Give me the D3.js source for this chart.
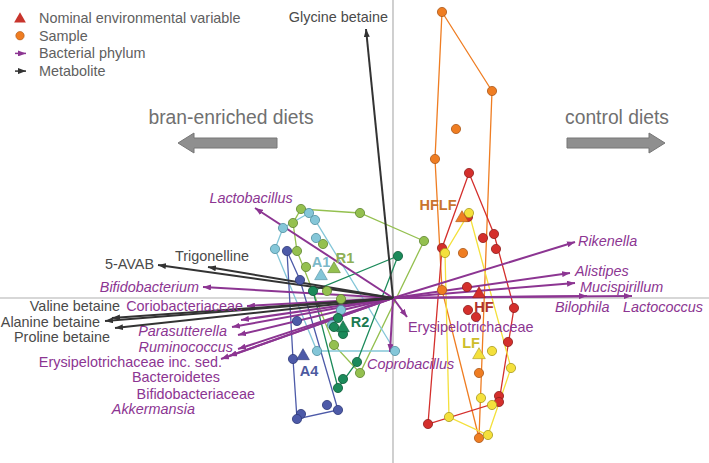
<!DOCTYPE html>
<style>
  body { margin: 0; background: #fff; }
  svg { font-family: "Liberation Sans", Arial, Helvetica, sans-serif; }
</style>
<svg width="709" height="463"></svg>
<script src="https://d3js.org/d3.v7.min.js"></script>
<script>

// ---- data (ordination scores) ----
var groups = ["HFLF", "HF", "LF", "R1", "A1", "A4", "R2"];

var samplesHFLF = [[0.49, 2.86], [0.99, 2.07], [0.63, 1.69], [0.42, 1.39], [0.70, 0.45], [0.49, 0.08], [0.86, -0.75], [0.86, -1.40]];
var samplesHF = [[0.76, 1.25], [0.75, 0.81], [0.49, 0.50], [0.90, 0.60], [1.01, 0.64], [1.03, 0.49], [0.74, 0.11], [0.75, -0.12],
  [0.83, -0.19], [1.21, -0.10], [1.15, -0.44], [1.06, -0.98], [1.06, -1.04], [0.35, -1.26]];
var samplesLF = [[0.76, 0.85], [0.52, 0.45], [0.99, -0.53], [1.18, -0.70], [0.88, -1.00], [0.99, -1.07], [0.56, -1.19], [0.95, -1.37]];
var samplesR1 = [[-0.92, 0.89], [-0.33, 0.85], [-1.00, 0.75], [-0.70, 0.54], [-0.96, 0.47], [-0.87, 0.31], [-0.66, 0.07],
  [-0.52, -0.01], [-0.59, -0.47], [-0.33, -0.75], [0.31, 0.57]];
var samplesA1 = [[-0.84, 0.85], [-0.78, 0.78], [-1.10, 0.70], [-0.77, 0.60], [-1.18, 0.49], [-0.52, -0.12], [-0.61, -0.27],
  [-0.76, -0.53], [0.02, -0.53]];
var samplesA4 = [[-1.06, 0.47], [-0.93, 0.18], [-0.96, -0.23], [-1.00, -0.61], [-0.66, -1.07], [-0.55, -1.12], [-0.92, -1.16], [-0.96, -1.21]];
var samplesR2 = [[0.05, 0.42], [-0.80, 0.07], [-0.55, -0.20], [-0.59, -0.29], [-0.50, -0.36], [-0.36, -0.64], [-0.50, -0.81], [-0.55, -0.90]];
var samples = [samplesHFLF, samplesHF, samplesLF, samplesR1, samplesA1, samplesA4, samplesR2];

// nominal environmental variables (diet centroids)
var centroids = [[0.69, 0.80], [0.86, 0.04], [0.86, -0.57], [-0.59, 0.29], [-0.72, 0.22], [-0.90, -0.58], [-0.50, -0.30]];

var metabolites = ["Glycine betaine", "5-AVAB", "Trigonelline", "Valine betaine", "Alanine betaine", "Proline betaine"];
var metaboliteScores = [[-0.27, 2.69], [-2.35, 0.33], [-1.85, 0.31], [-2.81, -0.20], [-2.88, -0.23], [-2.78, -0.30]];

var bacteria = ["Lactobacillus", "Bifidobacterium", "Coriobacteriaceae", "Bacteroidetes", "Parasutterella", "Ruminococcus",
  "Bifidobacteriaceae", "Akkermansia", "Erysipelotrichaceae inc. sed.", "Rikenella", "Alistipes", "Mucispirillum",
  "Bilophila", "Lactococcus", "Erysipelotrichaceae", "Coprobacillus"];
var bacteriaScores = [[-1.38, 0.90], [-1.90, 0.11], [-1.46, -0.08], [-1.52, -0.22], [-1.61, -0.29], [-1.55, -0.37],
  [-1.55, -0.51], [-1.64, -0.58], [-1.72, -0.61], [1.82, 0.56], [1.77, 0.25], [1.82, 0.15],
  [1.94, 0.02], [2.39, 0.02], [0.14, -0.19], [-0.03, -0.54]];
var genera = ["Lactobacillus", "Bifidobacterium", "Parasutterella", "Ruminococcus", "Akkermansia", "Rikenella", "Alistipes",
  "Mucispirillum", "Bilophila", "Lactococcus", "Coprobacillus"];

var legendItems = ["Nominal environmental variable", "Sample", "Bacterial phylum", "Metabolite"];

// ---- styling / layout ----
var hullColor = ["#ef7d22", "#d42f2c", "#f4e03c", "#94c04f", "#84c6d8", "#4d5aa8", "#1b8a5a"];
var dotStroke = ["#a9581a", "#8e1f1d", "#a89a20", "#5f8531", "#4f8fa0", "#2e3a78", "#0f5c3a"];
var groupText = ["#c9742e", "#b1302b", "#cdbd2a", "#8fb055", "#7cb8c8", "#4d5aa0", "#1b7a50"];
// label offset from centroid: [dx, dy, anchor]
var groupLabelPos = [[-24, -8, "middle"], [5, 18, "middle"], [-8, -7, "middle"], [11, -6, "middle"],
  [0, -9, "middle"], [6, 20, "middle"], [17, -1, "middle"]];

var labelPos = {
  "Glycine betaine": [22, -7, "end"], "5-AVAB": [-4, 4, "end"], "Trigonelline": [4, -6, "middle"],
  "Valine betaine": [8, -7, "end"], "Alanine betaine": [-5, 6, "end"], "Proline betaine": [-5, 14, "end"],
  "Lactobacillus": [-4, -5, "middle"], "Bifidobacterium": [-4, 5, "end"], "Coriobacteriaceae": [-4, 5, "end"],
  "Bacteroidetes": [-21, 62, "end"], "Parasutterella": [-5, 9, "end"], "Ruminococcus": [-5, 17, "end"],
  "Bifidobacteriaceae": [17, 50, "end"], "Akkermansia": [-34, 58, "end"], "Erysipelotrichaceae inc. sed.": [1, 8, "end"],
  "Rikenella": [3, 4, "start"], "Alistipes": [5, 3, "start"], "Mucispirillum": [5, 9, "start"],
  "Bilophila": [-32, 16, "start"], "Lactococcus": [-9, 16, "start"], "Erysipelotrichaceae": [1, 15, "start"],
  "Coprobacillus": [-23, 17, "start"]
};

var purple = "#8c3592", dark = "#333333", axisGray = "#b0b0b0";

var svg = d3.select("svg"),
  width = +svg.attr("width"),
  height = +svg.attr("height");

var x = d3.scaleLinear().domain([-3.93, 3.16]).range([0, width]);
var y = d3.scaleLinear().domain([2.98, -1.65]).range([0, height]);

var defs = svg.append("defs");
function marker(id, color, len, wid) {
  defs.append("marker")
    .attr("id", id)
    .attr("viewBox", "0 0 " + len + " " + wid)
    .attr("refX", len).attr("refY", wid / 2)
    .attr("markerUnits", "userSpaceOnUse")
    .attr("markerWidth", len).attr("markerHeight", wid)
    .attr("orient", "auto")
    .append("path")
    .attr("d", "M0,0L" + len + "," + (wid / 2) + "L0," + wid + "Z")
    .attr("fill", color);
}
marker("head-purple", purple, 8, 6);
marker("head-dark", dark, 8, 6);

// axes through origin
svg.append("line").attr("x1", 0).attr("x2", width).attr("y1", y(0)).attr("y2", y(0))
  .attr("stroke", axisGray).attr("stroke-width", 1.2);
svg.append("line").attr("x1", x(0)).attr("x2", x(0)).attr("y1", 0).attr("y2", height)
  .attr("stroke", axisGray).attr("stroke-width", 1.2);

// direction annotations
function bigArrow(x0, x1, yc, dir) {
  var head = 16 * dir, sh = 5, hh = 10;
  var pts = [[x0, yc - sh], [x1 - head, yc - sh], [x1 - head, yc - hh], [x1, yc], [x1 - head, yc + hh], [x1 - head, yc + sh], [x0, yc + sh]];
  svg.append("path").attr("d", d3.line()(pts) + "Z")
    .attr("fill", "#8f8f8f").attr("stroke", "#777").attr("stroke-width", 1);
}
bigArrow(277, 178, 143, -1);
bigArrow(567, 665, 143, 1);
svg.append("text").attr("x", 231).attr("y", 124).attr("text-anchor", "middle")
  .attr("font-size", 19.3).attr("fill", "#707070").text("bran-enriched diets");
svg.append("text").attr("x", 617).attr("y", 124).attr("text-anchor", "middle")
  .attr("font-size", 19.3).attr("fill", "#707070").text("control diets");

// hulls
groups.forEach(function (g, i) {
  var hull = d3.polygonHull(samples[i].map(function (p) { return [x(p[0]), y(p[1])]; }));
  svg.append("path")
    .attr("d", "M" + hull.join("L") + "Z")
    .attr("fill", "none")
    .attr("stroke", hullColor[i])
    .attr("stroke-width", 1.3);
});

// biplot arrows
function arrows(names, scores, color, mk) {
  svg.append("g").selectAll("line")
    .data(names)
    .join("line")
    .attr("x1", x(0)).attr("y1", y(0))
    .attr("x2", function (d, i) { return x(scores[i][0]); })
    .attr("y2", function (d, i) { return y(scores[i][1]); })
    .attr("stroke", color)
    .attr("stroke-width", 2)
    .attr("marker-end", "url(#" + mk + ")");
}
arrows(bacteria, bacteriaScores, purple, "head-purple");
arrows(metabolites, metaboliteScores, dark, "head-dark");

// samples
groups.forEach(function (g, i) {
  svg.append("g").selectAll("circle")
    .data(samples[i])
    .join("circle")
    .attr("cx", function (d) { return x(d[0]); })
    .attr("cy", function (d) { return y(d[1]); })
    .attr("r", 4.6)
    .attr("fill", hullColor[i])
    .attr("stroke", dotStroke[i])
    .attr("stroke-width", 0.8);
});

// centroids
var tri = d3.symbol().type(d3.symbolTriangle).size(70);
svg.append("g").selectAll("path")
  .data(centroids)
  .join("path")
  .attr("transform", function (d) { return "translate(" + x(d[0]) + "," + y(d[1]) + ")"; })
  .attr("d", tri)
  .attr("fill", function (d, i) { return hullColor[i]; })
  .attr("stroke", function (d, i) { return dotStroke[i]; })
  .attr("stroke-width", 0.6);

svg.append("g").selectAll("text")
  .data(groups)
  .join("text")
  .attr("x", function (d, i) { return x(centroids[i][0]) + groupLabelPos[i][0]; })
  .attr("y", function (d, i) { return y(centroids[i][1]) + groupLabelPos[i][1]; })
  .attr("text-anchor", function (d, i) { return groupLabelPos[i][2]; })
  .attr("font-size", 14.5)
  .attr("font-weight", "bold")
  .attr("fill", function (d, i) { return groupText[i]; })
  .text(function (d) { return d; });

// arrow labels
function labels(names, scores, color) {
  svg.append("g").selectAll("text")
    .data(names)
    .join("text")
    .attr("x", function (d, i) { return x(scores[i][0]) + labelPos[d][0]; })
    .attr("y", function (d, i) { return y(scores[i][1]) + labelPos[d][1]; })
    .attr("text-anchor", function (d) { return labelPos[d][2]; })
    .attr("font-size", 14.4)
    .attr("font-style", function (d) { return genera.indexOf(d) >= 0 ? "italic" : null; })
    .attr("fill", color)
    .text(function (d) { return d; });
}
labels(bacteria, bacteriaScores, purple);
labels(metabolites, metaboliteScores, "#4a4a4a");

// legend
var legend = svg.append("g").attr("transform", "translate(20,18)");
var row = legend.selectAll("g")
  .data(legendItems)
  .join("g")
  .attr("transform", function (d, i) { return "translate(0," + (i * 17.7) + ")"; });
row.append("text")
  .attr("x", 19).attr("y", 5)
  .attr("font-size", 14.4)
  .attr("fill", "#606060")
  .text(function (d) { return d; });
legend.append("path").attr("d", d3.symbol().type(d3.symbolTriangle).size(60)).attr("fill", "#c8342c")
  .attr("transform", "translate(0,1)");
legend.append("circle").attr("cy", 17.7).attr("r", 4.2).attr("fill", "#ef7d22").attr("stroke", "#a9581a").attr("stroke-width", 0.6);
legend.append("line").attr("x1", -5).attr("x2", 6).attr("y1", 35.4).attr("y2", 35.4)
  .attr("stroke", purple).attr("stroke-width", 1.5).attr("marker-end", "url(#head-purple)");
legend.append("line").attr("x1", -5).attr("x2", 6).attr("y1", 53.1).attr("y2", 53.1)
  .attr("stroke", dark).attr("stroke-width", 1.5).attr("marker-end", "url(#head-dark)");

</script>
